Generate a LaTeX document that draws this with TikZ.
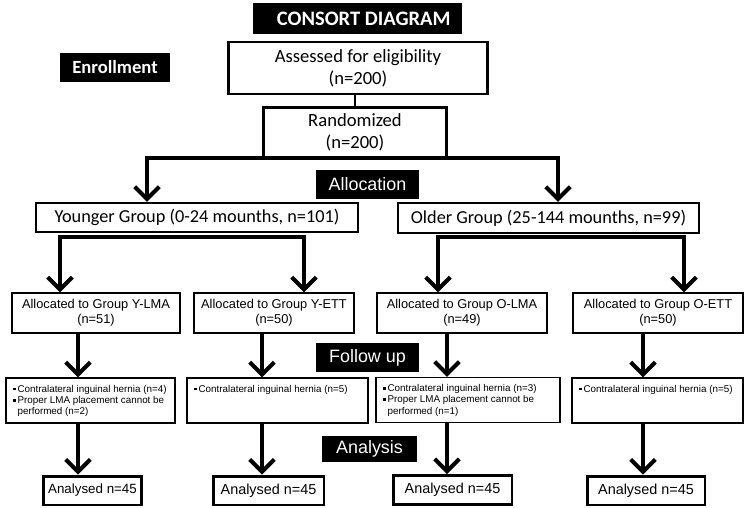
\documentclass[tikz,border=0pt]{standalone}
\usepackage{fontspec}
\newfontfamily\calibri{Carlito}
\newfontfamily\arial{Liberation Sans}
\usetikzlibrary{arrows.meta, positioning, calc}
% bullet square and top-aligned text of the follow-up boxes
\newcommand{\bul}{\makebox[2.6pt][l]{\rule[1pt]{1.5pt}{1.5pt}}}
\newcommand{\fuptext}[2]{\parbox[c][0.62cm][t]{#1}{\arial\fontsize{5.6}{6.4}\selectfont #2}}

\begin{document}
\begin{tikzpicture}[x=0.02cm, y=-0.02cm,
  hdr/.style={fill=black, text=white, inner sep=0pt, anchor=center},
  box/.style={draw=black, fill=white, inner sep=0pt, anchor=center, align=center},
  fupbox/.style={draw=black, line width=0.8pt, inner xsep=0.14cm, inner ysep=0.14cm, anchor=center},
  arr/.style={line width=2.3pt, -{Straight Barb[length=7pt,width=14pt]}},
  bar/.style={line width=2.3pt}]
  \useasboundingbox (0,0) rectangle (750,507);
  % Pixel grid 750 x 507, 1px = 0.02cm

  % Headers
  \node[hdr, minimum width=4.18cm, minimum height=0.62cm, font=\calibri\bfseries\fontsize{11.7}{13}\selectfont]
    (title) at (357.5,18.5) {\hspace{0.25cm}CONSORT DIAGRAM};
  \node[hdr, minimum width=2.2cm, minimum height=0.58cm, font=\calibri\bfseries\fontsize{10.6}{12}\selectfont]
    (enroll) at (115,67.5) {Enrollment};
  \node[hdr, minimum width=2.06cm, minimum height=0.58cm, font=\arial\fontsize{10.2}{12}\selectfont]
    (alloc) at (367.5,184.5) {Allocation};
  \node[hdr, minimum width=2.06cm, minimum height=0.58cm, font=\arial\fontsize{10.2}{12}\selectfont]
    (follow) at (367.5,357.5) {Follow up};
  \node[hdr, minimum width=1.9cm, minimum height=0.52cm, font=\arial\fontsize{10.2}{12}\selectfont]
    (analysis) at (369.5,449) {Analysis};

  % Enrollment and randomisation
  \node[box, line width=1.7pt, minimum width=5.2cm, minimum height=1.04cm, font=\calibri\fontsize{10.6}{12.6}\selectfont]
    (assess) at (358,68) {Assessed for eligibility\\(n=200)};
  \node[box, line width=1.7pt, minimum width=3.68cm, minimum height=1.0cm, font=\calibri\fontsize{10.6}{12.6}\selectfont]
    (rand) at (355,132) {Randomized\\(n=200)};
  \draw[line width=1.1pt] (rand.north |- assess.south) -- (rand.north);

  % Age groups
  \node[box, line width=1.2pt, minimum width=6.44cm, minimum height=0.58cm, font=\calibri\fontsize{10.4}{12}\selectfont]
    (young) at (197,217.5) {Younger Group (0-24 mounths, n=101)};
  \node[box, line width=1.2pt, minimum width=6.02cm, minimum height=0.6cm, font=\calibri\fontsize{10.4}{12}\selectfont]
    (old) at (548.5,218) {Older Group (25-144 mounths, n=99)};
  \coordinate (split1) at (147,158);
  \coordinate (split2) at (558,158);
  \draw[arr] (split2) -- (split1) -- (young.north -| split1);
  \draw[arr] (split1) -- (split2) -- (old.north -| split2);

  % Allocated groups
  \foreach \nm/\cx/\w/\lab/\n in {yla/96/3.36/Y-LMA/51, yea/274/3.2/Y-ETT/50,
                                  ola/462/3.4/O-LMA/49, oea/658/3.4/O-ETT/50} {
    \node[box, line width=0.8pt, minimum width=\w cm, minimum height=0.8cm, font=\arial\fontsize{7.3}{8.4}\selectfont]
      (\nm) at (\cx,313) {Allocated to Group \lab\\(n=\n)};
  }
  \coordinate (ysplit1) at (60,237);
  \coordinate (ysplit2) at (304,237);
  \coordinate (osplit1) at (438,237);
  \coordinate (osplit2) at (684,237);
  \draw[arr] (ysplit2) -- (ysplit1) -- (yla.north -| ysplit1);
  \draw[arr] (ysplit1) -- (ysplit2) -- (yea.north -| ysplit2);
  \draw[arr] (osplit2) -- (osplit1) -- (ola.north -| osplit1);
  \draw[arr] (osplit1) -- (osplit2) -- (oea.north -| osplit2);

  % Follow up
  \node[fupbox] (yfl) at (90.5,400.5) {\fuptext{3.1cm}{\bul Contralateral inguinal hernia (n=4)\\
    \bul Proper LMA placement cannot be\\\hspace*{2.6pt}performed (n=2)}};
  \node[fupbox] (yfe) at (277.5,400.5) {\fuptext{3.34cm}{\bul Contralateral inguinal hernia (n=5)}};
  \node[fupbox] (ofl) at (468,400) {\fuptext{3.4cm}{\bul Contralateral inguinal hernia (n=3)\\
    \bul Proper LMA placement cannot be\\\hspace*{2.6pt}performed (n=1)}};
  \node[fupbox] (ofe) at (657.5,400.5) {\fuptext{3.14cm}{\bul Contralateral inguinal hernia (n=5)}};

  % Analysed
  \node[box, line width=1.7pt, minimum width=1.98cm, minimum height=0.58cm, font=\arial\fontsize{7.6}{9}\selectfont]
    (yna) at (92.5,490.5) {Analysed n=45};
  \node[box, line width=1.7pt, minimum width=2.22cm, minimum height=0.58cm, font=\arial\fontsize{8.2}{10}\selectfont]
    (yne) at (268.5,490.5) {Analysed n=45};
  \node[box, line width=1.7pt, minimum width=2.38cm, minimum height=0.58cm, font=\arial\fontsize{8.2}{10}\selectfont]
    (ona) at (452.5,490) {Analysed n=45};
  \node[box, line width=1.7pt, minimum width=2.36cm, minimum height=0.58cm, font=\arial\fontsize{8.2}{10}\selectfont]
    (one) at (646,490.5) {Analysed n=45};

  % Column arrows
  \foreach \a/\f/\n/\cx in {yla/yfl/yna/78, yea/yfe/yne/262, ola/ofl/ona/447, oea/ofe/one/643} {
    \coordinate (col) at (\cx,0);
    \draw[arr] (\a.south -| col) -- (\f.north -| col);
    \draw[arr] (\f.south -| col) -- (\n.north -| col);
  }
\end{tikzpicture}
\end{document}
